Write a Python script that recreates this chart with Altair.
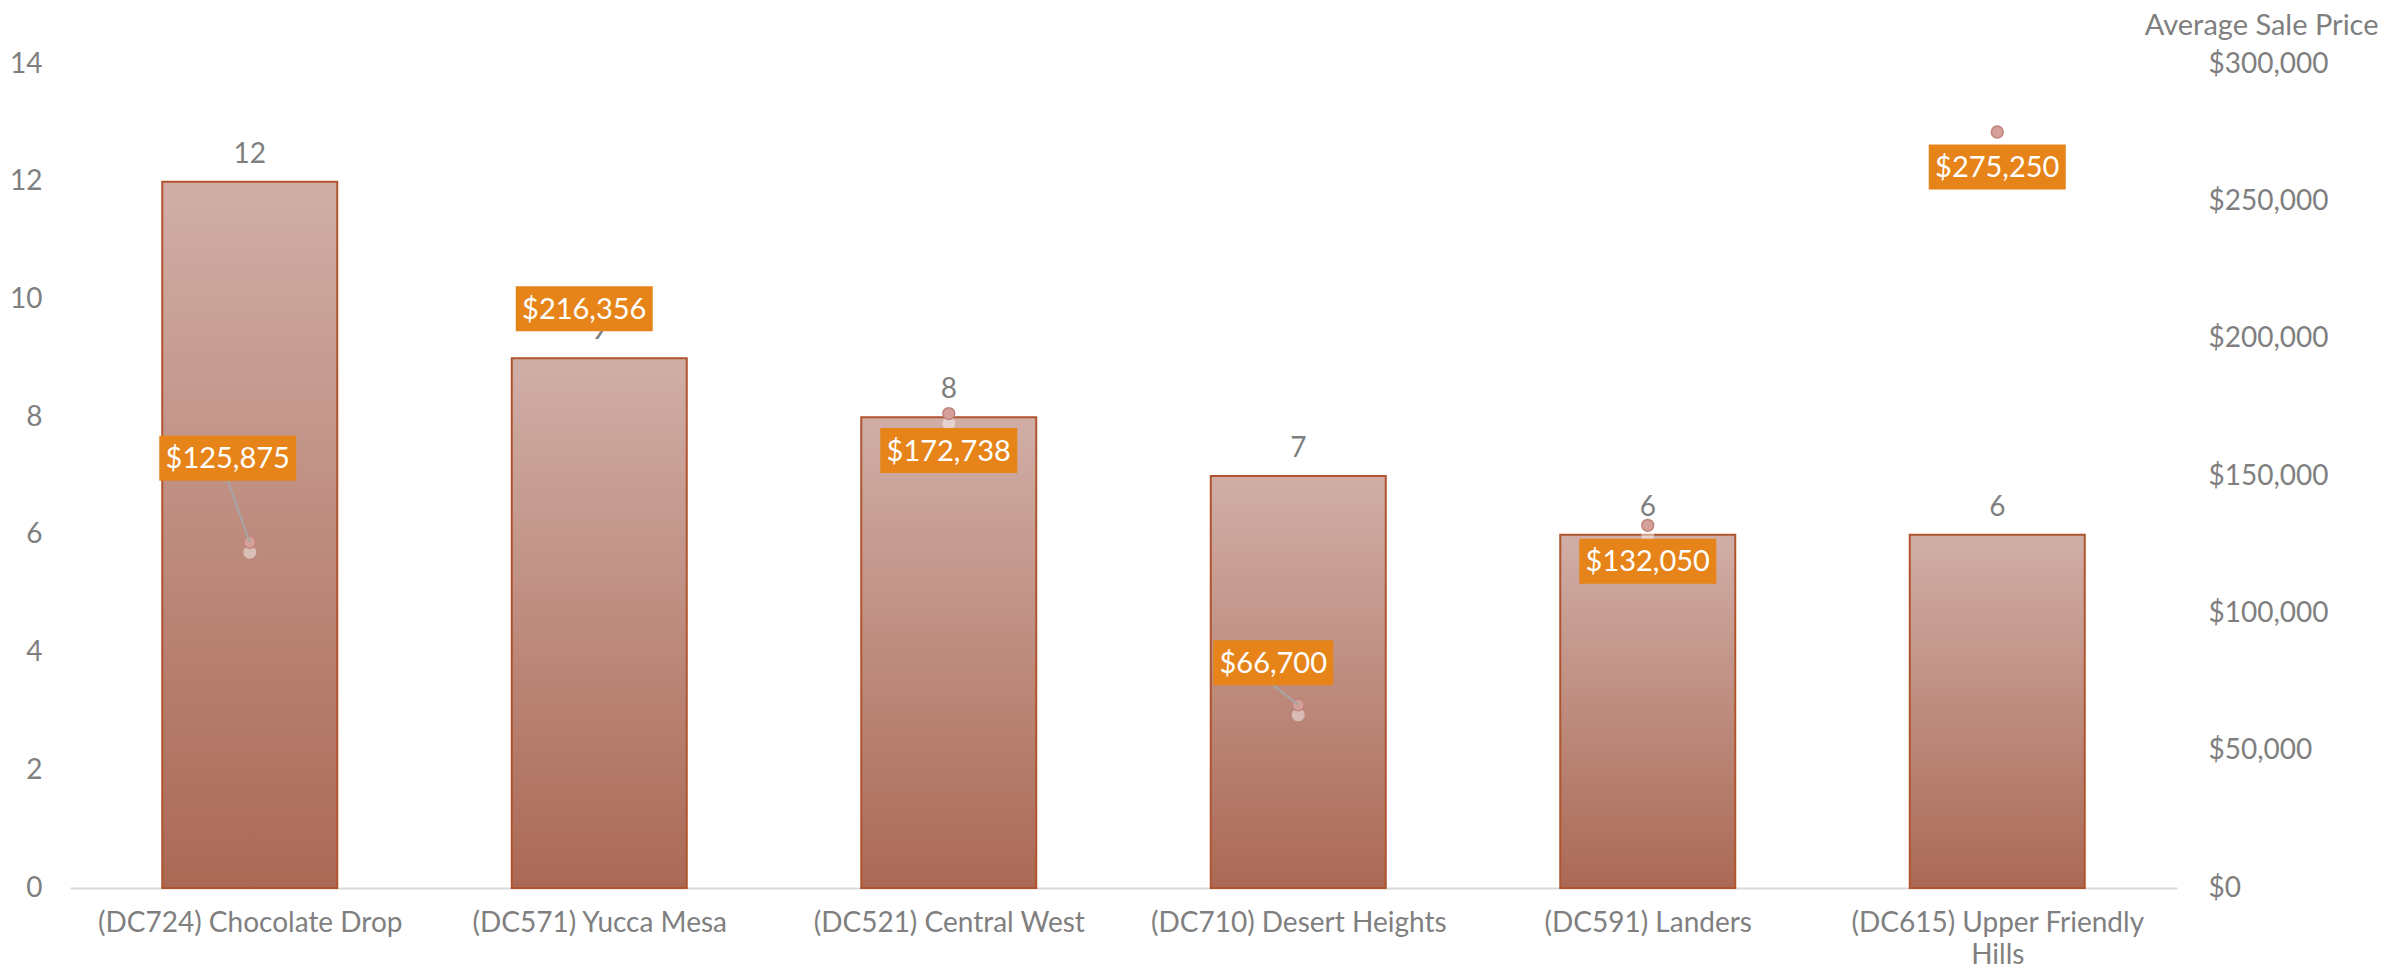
import json
import textwrap
import altair as alt
import pandas as pd

# ---- data ----
categories = [
    "(DC724) Chocolate Drop",
    "(DC571) Yucca Mesa",
    "(DC521) Central West",
    "(DC710) Desert Heights",
    "(DC591) Landers",
    "(DC615) Upper Friendly Hills",
]
sales_count = [12, 9, 8, 7, 6, 6]
avg_price = [125875, 216356, 172738, 66700, 132050, 275250]
count_ticks = [0, 2, 4, 6, 8, 10, 12, 14]
price_ticks = [0, 50000, 100000, 150000, 200000, 250000, 300000]
price_axis_title = "Average Sale Price"

# ---- layout of price labels (pixel offsets of box centre from the dot) ----
label_offsets = [(-22, -84), (-15, 15), (0, 37), (-25, -42), (0, 36), (0, 35)]
show_leader = [True, False, False, True, False, False]

GRAY = "#7F7F7F"
ORANGE = "#E6841A"
FONT = "Lato"

df = pd.DataFrame({
    "idx": list(range(len(categories))),
    "category": categories,
    "count": sales_count,
    "price": avg_price,
})

wrapped = [textwrap.wrap(c, 24) for c in categories]
label_expr = json.dumps(wrapped) + "[datum.value]"

X = alt.X(
    "idx:Q",
    scale=alt.Scale(domain=[-0.5, len(categories) - 0.5], nice=False, zero=False),
    axis=alt.Axis(
        values=list(range(len(categories))),
        labelExpr=label_expr,
        title=None,
        grid=False,
        ticks=False,
        domainColor="#D9D9D9",
        domainWidth=2,
        labelPadding=21,
        labelLineHeight=32,
        labelOverlap=False,
        labelFlush=False,
        labelLimit=0,
    ),
)

Yc = alt.Y(
    "count:Q",
    scale=alt.Scale(domain=[0, 14], nice=False),
    axis=alt.Axis(
        orient="left",
        values=count_ticks,
        title=None,
        domain=False,
        ticks=False,
        grid=False,
        labelPadding=28,
    ),
)

Yp = alt.Y(
    "price:Q",
    scale=alt.Scale(domain=[0, 300000], nice=False),
    axis=alt.Axis(
        orient="right",
        values=price_ticks,
        format="$,.0f",
        title=price_axis_title,
        titleAngle=0,
        titleAlign="right",
        titleBaseline="middle",
        titleX=201,
        titleY=-39,
        titleFontSize=29,
        titleFontWeight="normal",
        titleColor=GRAY,
        domain=False,
        ticks=False,
        grid=False,
        labelPadding=31,
        labelAlign="left",
    ),
)

base = alt.Chart(df)

bar_gradient = alt.LinearGradient(
    gradient="linear",
    stops=[
        alt.GradientStop(color="#D0AEA7", offset=0),
        alt.GradientStop(color="#AB6955", offset=1),
    ],
    x1=0, x2=0, y1=0, y2=1,
)

bars = base.mark_bar(width=175, color=bar_gradient, stroke="#B0542E", strokeWidth=2).encode(x=X, y=Yc)
count_text = base.mark_text(
    baseline="alphabetic", dy=-19, color=GRAY, fontSize=28, font=FONT
).encode(x=X, y=Yc, text="count:Q")

bar_group = alt.layer(bars, count_text)

glow = base.mark_circle(color="white", opacity=0.45, size=170, yOffset=10).encode(x=X, y=Yp)
dots = base.mark_circle(
    size=140, color="#D4A099", stroke="#C0837A", strokeWidth=1.5, opacity=1
).encode(x=X, y=Yp)

price_layers = [glow, dots]
for i, (dx, dy) in enumerate(label_offsets):
    sub = base.transform_filter(alt.datum.idx == i)
    label = "${:,}".format(avg_price[i])
    w = 17 * len(label) + 1
    h = 45
    k = h / w
    if show_leader[i]:
        price_layers.append(
            sub.mark_rule(color="#A6A6A6", strokeWidth=2, x2Offset=dx, y2Offset=dy + h / 2).encode(
                x=X, x2=alt.X2("idx:Q"), y=Yp, y2=alt.Y2("price:Q")
            )
        )
    price_layers.append(
        sub.mark_point(
            shape=f"M-1,{-k}L1,{-k}L1,{k}L-1,{k}Z",
            size=w * w,
            filled=True,
            color=ORANGE,
            opacity=1,
            strokeWidth=0,
            xOffset=dx,
            yOffset=dy,
        ).encode(x=X, y=Yp)
    )
    price_layers.append(
        sub.mark_text(
            color="white", fontSize=29, font=FONT, dx=dx, dy=dy + 1, baseline="middle", align="center"
        ).encode(x=X, y=Yp, text=alt.Text("price:Q", format="$,.0f"))
    )

price_group = alt.layer(*price_layers)

chart = (
    alt.layer(bar_group, price_group)
    .resolve_scale(y="independent")
    .properties(
        width=2107,
        height=824,
        autosize=alt.AutoSizeParams(type="none"),
        padding={"left": 62, "top": 56, "right": 215, "bottom": 81},
        background="white",
    )
    .configure_view(stroke=None)
    .configure_axis(labelFont=FONT, labelFontSize=28, labelColor=GRAY, titleFont=FONT)
)

chart.save("out.html", embed_options={"renderer": "svg", "actions": False})
